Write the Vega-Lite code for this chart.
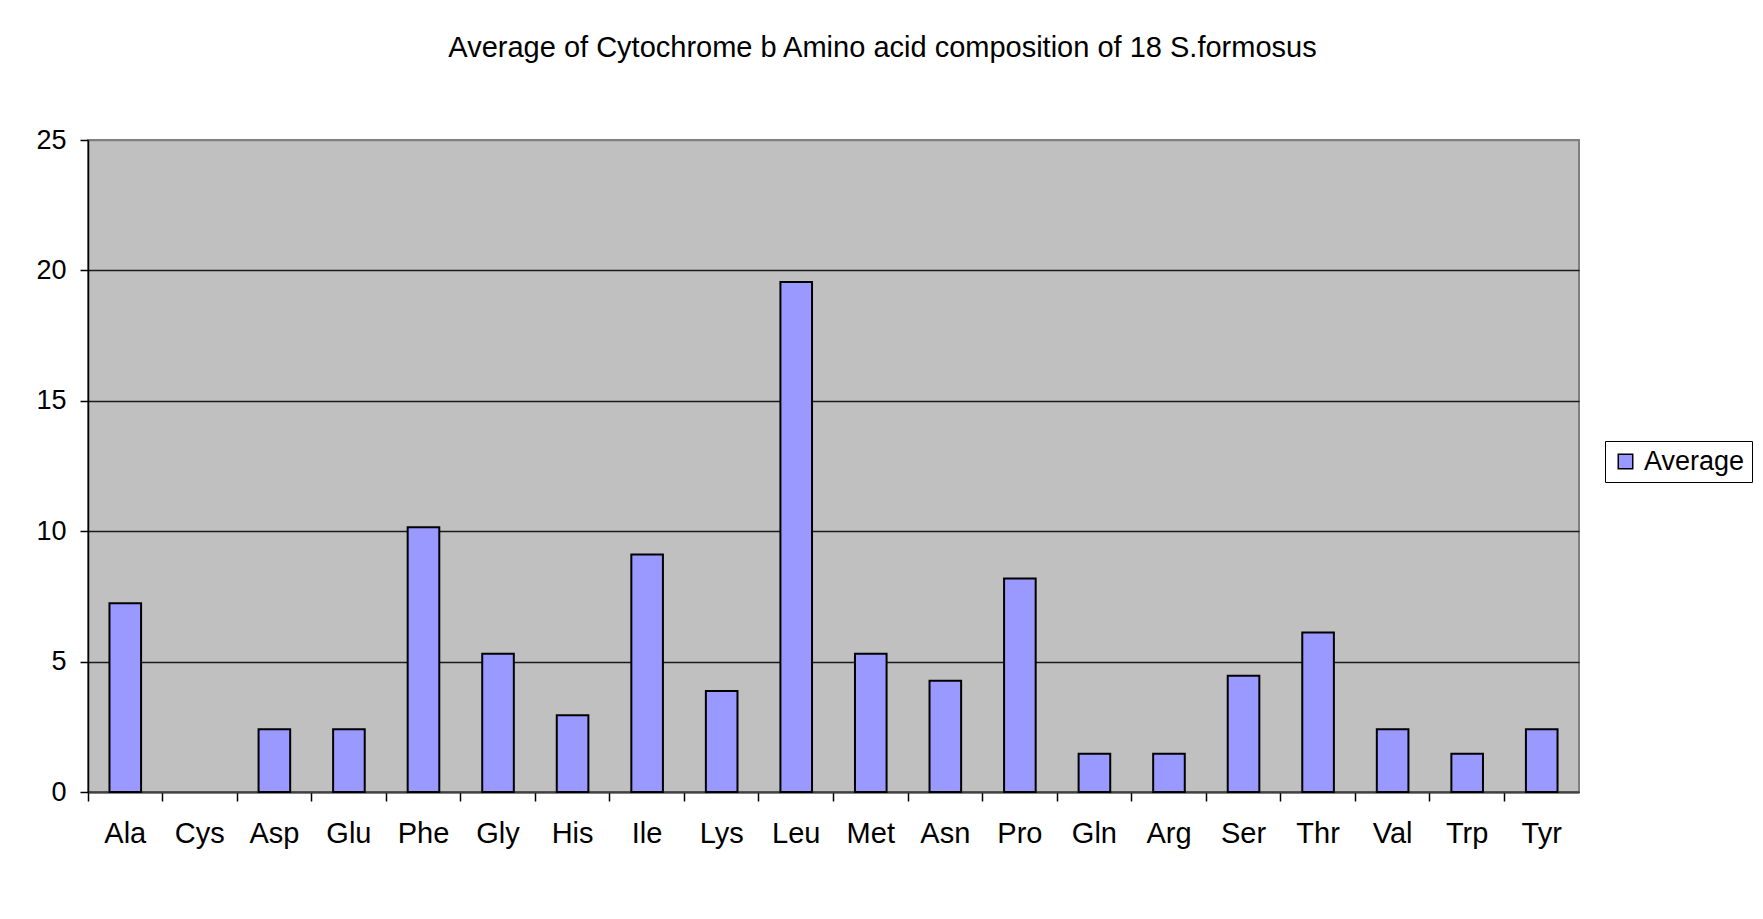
{
  "$schema": "https://vega.github.io/schema/vega-lite/v6.json",
  "width": 1491,
  "height": 652,
  "autosize": "none",
  "padding": {"left": 88, "top": 140, "right": 184, "bottom": 127},
  "background": "white",
  "title": {
    "text": "Average of Cytochrome b Amino acid composition of 18 S.formosus",
    "font": "Liberation Sans",
    "fontSize": 29,
    "fontWeight": "normal",
    "color": "black",
    "anchor": "middle",
    "dx": 49,
    "offset": 63
  },
  "data": {
    "values": [
      {"acid": "Ala", "average": 7.24},
      {"acid": "Cys", "average": 0},
      {"acid": "Asp", "average": 2.41},
      {"acid": "Glu", "average": 2.41},
      {"acid": "Phe", "average": 10.15},
      {"acid": "Gly", "average": 5.3},
      {"acid": "His", "average": 2.94},
      {"acid": "Ile", "average": 9.11},
      {"acid": "Lys", "average": 3.87},
      {"acid": "Leu", "average": 19.56},
      {"acid": "Met", "average": 5.3},
      {"acid": "Asn", "average": 4.27},
      {"acid": "Pro", "average": 8.19},
      {"acid": "Gln", "average": 1.47},
      {"acid": "Arg", "average": 1.47},
      {"acid": "Ser", "average": 4.46},
      {"acid": "Thr", "average": 6.12},
      {"acid": "Val", "average": 2.41},
      {"acid": "Trp", "average": 1.47},
      {"acid": "Tyr", "average": 2.41}
    ]
  },
  "mark": {"type": "bar", "width": {"band": 0.424}, "stroke": "black"},
  "encoding": {
    "x": {
      "field": "acid",
      "type": "nominal",
      "sort": null,
      "scale": {"paddingInner": 0, "paddingOuter": 0},
      "axis": {
        "title": null,
        "labelAngle": 0,
        "bandPosition": 0,
        "labelOffset": 0,
        "labelFont": "Liberation Sans",
        "labelFontSize": 29,
        "labelColor": "black",
        "labelPadding": 18,
        "tickColor": "black",
        "tickSize": 9,
        "tickWidth": 1.5,
        "domainColor": "#404040",
        "domainWidth": 2
      }
    },
    "y": {
      "field": "average",
      "type": "quantitative",
      "scale": {"domain": [0, 25], "nice": false},
      "axis": {
        "title": null,
        "values": [0, 5, 10, 15, 20, 25],
        "labelFont": "Liberation Sans",
        "labelFontSize": 27,
        "labelColor": "black",
        "labelPadding": 14,
        "tickColor": "black",
        "tickSize": 8,
        "tickWidth": 1.5,
        "domainColor": "black",
        "domainWidth": 1.5,
        "grid": true,
        "gridColor": {"condition": {"test": "datum.value == 25", "value": "#808080"}, "value": "#1a1a1a"},
        "gridWidth": 1.5,
        "gridOpacity": 1
      }
    },
    "strokeWidth": {
      "condition": {"test": "datum.average == 0", "value": 0},
      "value": 2
    },
    "color": {
      "datum": "Average",
      "scale": {"range": ["#9999FF"]},
      "legend": {
        "title": null,
        "orient": "none",
        "legendX": 1517,
        "legendY": 301,
        "fillColor": "white",
        "strokeColor": "black",
        "padding": 7,
        "symbolType": "square",
        "symbolSize": 210,
        "symbolStrokeColor": "black",
        "symbolStrokeWidth": 1.5,
        "labelFont": "Liberation Sans",
        "labelFontSize": 27,
        "labelColor": "black",
        "labelOffset": 5
      }
    }
  },
  "config": {
    "view": {"fill": "#C0C0C0", "stroke": "#808080", "strokeWidth": 2}
  }
}
